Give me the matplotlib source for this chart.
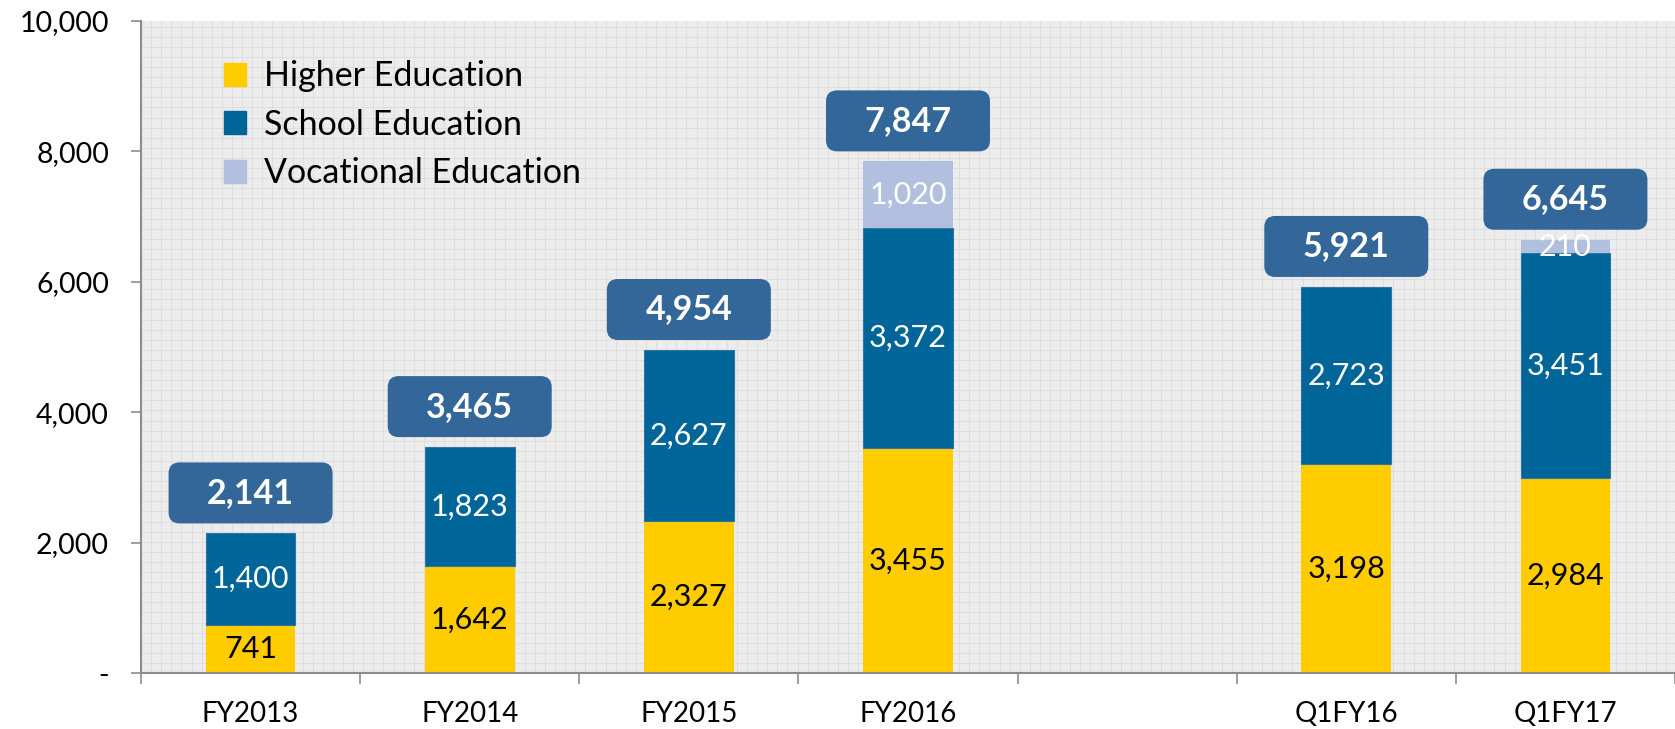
import matplotlib
matplotlib.use("Agg")
import matplotlib.pyplot as plt
from matplotlib.patches import FancyBboxPatch, Patch
from matplotlib.collections import LineCollection
import numpy as np

plt.rcParams['font.family'] = ['Lato', 'DejaVu Sans']

categories = ["FY2013", "FY2014", "FY2015", "FY2016", "", "Q1FY16", "Q1FY17"]
higher = [741, 1642, 2327, 3455, 0, 3198, 2984]
school = [1400, 1823, 2627, 3372, 0, 2723, 3451]
vocational = [0, 0, 0, 1020, 0, 0, 210]
totals = [2141, 3465, 4954, 7847, None, 5921, 6645]
series_names = ["Higher Education", "School Education", "Vocational Education"]
yticks = [0, 2000, 4000, 6000, 8000, 10000]

c_high = "#FFCC00"
c_school = "#006699"
c_voc = "#B0C0DE"
c_box = "#336699"

W, H = 1675, 729
fig = plt.figure(figsize=(W / 100, H / 100), dpi=100)
ax_left, ax_right, ax_top, ax_bot = 141, 1675, 21, 673
ax = fig.add_axes([ax_left / W, (H - ax_bot) / H, (ax_right - ax_left) / W, (ax_bot - ax_top) / H])
ax.set_facecolor("#ECECEC")

# fine background grid (texture)
ax_w, ax_h = ax_right - ax_left, ax_bot - ax_top
segs = []
for px in np.arange(0, ax_w, 10.1):
    segs.append([(px / ax_w, 0), (px / ax_w, 1)])
for py in np.arange(0, ax_h, 10.1):
    segs.append([(0, py / ax_h), (1, py / ax_h)])
ax.add_collection(LineCollection(segs, colors="#DEDEDE", linewidths=0.7, transform=ax.transAxes, zorder=0))

x = np.arange(len(categories))
bw = 0.41
h = np.array(higher, float)
s = np.array(school, float)
v = np.array(vocational, float)
ax.bar(x, h, bw, color=c_high, zorder=2)
ax.bar(x, s, bw, bottom=h, color=c_school, zorder=2, edgecolor="#2f75a8", linewidth=0.8)
ax.bar(x, v, bw, bottom=h + s, color=c_voc, zorder=2)

ax.set_xlim(-0.5, len(categories) - 0.5)
ax.set_ylim(0, 10000)

# segment labels
fs_in = 22
for i in range(len(categories)):
    if h[i] > 0:
        ax.text(x[i], h[i] / 2, f"{int(h[i]):,}", ha="center", va="center", fontsize=fs_in, color="black", zorder=4)
    if s[i] > 0:
        ax.text(x[i], h[i] + s[i] / 2, f"{int(s[i]):,}", ha="center", va="center", fontsize=fs_in, color="white", zorder=4)
    if v[i] > 0:
        ax.text(x[i], h[i] + s[i] + v[i] / 2, f"{int(v[i]):,}", ha="center", va="center", fontsize=fs_in, color="white", zorder=4)

# total boxes
px_x = (len(categories)) / ax_w   # data per px in x
px_y = 10000 / ax_h               # data per px in y
box_w, box_h, gap, rad = 164, 61, 10, 11
for i, t in enumerate(totals):
    if t is None:
        continue
    bx0 = x[i] - box_w * px_x / 2
    by0 = t + gap * px_y
    patch = FancyBboxPatch((bx0, by0), box_w * px_x, box_h * px_y,
                           boxstyle=f"round,pad=0,rounding_size={rad * px_x}",
                           mutation_aspect=px_y / px_x,
                           fc=c_box, ec="none", zorder=3, clip_on=False)
    ax.add_patch(patch)
    ax.text(x[i], by0 + box_h * px_y / 2, f"{t:,}", ha="center", va="center",
            fontsize=24.5, fontweight="bold", color="white", zorder=4)

# axes styling
for sp in ["top", "right"]:
    ax.spines[sp].set_visible(False)
for sp in ["left", "bottom"]:
    ax.spines[sp].set_color("#8C8C8C")
    ax.spines[sp].set_linewidth(1.5)

ax.set_yticks(yticks)
ax.set_yticklabels([f"{t:,}" if t else "-" for t in yticks], fontsize=20.5)
ax.tick_params(axis="y", length=7, width=1.2, color="#8C8C8C", pad=16)

ax.set_xticks(x)
ax.set_xticklabels(categories, fontsize=20)
ax.tick_params(axis="x", which="major", length=0, pad=20)
ax.set_xticks(np.arange(-0.5, len(categories) + 0.5, 1), minor=True)
ax.tick_params(axis="x", which="minor", length=8, width=1.2, color="#8C8C8C")

handles = [Patch(color=c_high), Patch(color=c_school), Patch(color=c_voc)]
leg = ax.legend(handles, series_names, loc="upper left", bbox_to_anchor=(0.054, 0.94),
                frameon=False, fontsize=24.5, handlelength=0.65, handleheight=0.65,
                handletextpad=0.52, labelspacing=0.49, borderpad=0, borderaxespad=0)

fig.savefig("out.png", dpi=100)
